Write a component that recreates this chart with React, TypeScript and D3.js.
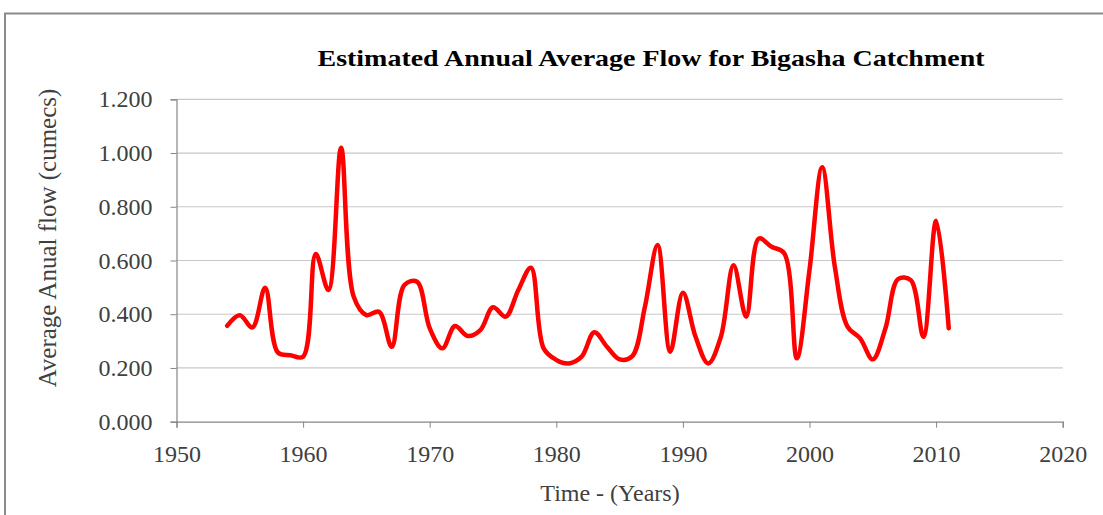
import { useEffect, useRef } from 'react';
import * as d3 from 'd3';

const years = [
  1954, 1955, 1956, 1957, 1958, 1959, 1960, 1961, 1962, 1963,
  1964, 1965, 1966, 1967, 1968, 1969, 1970, 1971, 1972, 1973,
  1974, 1975, 1976, 1977, 1978, 1979, 1980, 1981, 1982, 1983,
  1984, 1985, 1986, 1987, 1988, 1989, 1990, 1991, 1992, 1993,
  1994, 1995, 1996, 1997, 1998, 1999, 2000, 2001, 2002, 2003,
  2004, 2005, 2006, 2007, 2008, 2009, 2010, 2011,
];
const flow = [
  0.357, 0.396, 0.351, 0.499, 0.258, 0.247, 0.242, 0.624, 0.49, 1.02,
  0.465, 0.397, 0.409, 0.279, 0.509, 0.521, 0.348, 0.273, 0.356, 0.319,
  0.341, 0.426, 0.391, 0.49, 0.573, 0.273, 0.23, 0.217, 0.242, 0.333,
  0.279, 0.232, 0.244, 0.428, 0.658, 0.26, 0.48, 0.316, 0.217, 0.316,
  0.582, 0.391, 0.682, 0.651, 0.627, 0.236, 0.565, 0.947, 0.577, 0.354,
  0.31, 0.232, 0.348, 0.531, 0.527, 0.316, 0.748, 0.348,
];
const xTicks = [1950, 1960, 1970, 1980, 1990, 2000, 2010, 2020];
const yTicks = [0, 0.2, 0.4, 0.6, 0.8, 1.0, 1.2];

const title = 'Estimated Annual Average Flow for Bigasha Catchment';
const xTitle = 'Time - (Years)';
const yTitle = 'Average Anual flow (cumecs)';

const font = '"Liberation Serif", "DejaVu Serif", serif';

export default function App() {
  const svgRef = useRef<SVGSVGElement>(null);

  useEffect(() => {
    if (!svgRef.current) return;
    const width = 1103;
    const height = 515;
    const margin = { top: 99.3, right: 1103 - 1062.7, bottom: 515 - 421.7, left: 176.5 };

    const svg = d3.select(svgRef.current);
    svg.selectAll('*').remove();
    svg.attr('width', width).attr('height', height);

    // chart frame (Excel-style border, cut off at right and bottom)
    svg.append('rect')
      .attr('x', 5).attr('y', 13.5)
      .attr('width', width + 10).attr('height', height + 10)
      .attr('fill', '#fff')
      .attr('stroke', '#8a8a8a')
      .attr('stroke-width', 2);

    const x = d3.scaleLinear().domain([1950, 2020]).range([margin.left, width - margin.right]);
    const y = d3.scaleLinear().domain([0, 1.2]).range([height - margin.bottom, margin.top]);

    // gridlines
    svg.append('g')
      .selectAll('line')
      .data(yTicks.slice(1))
      .join('line')
      .attr('x1', x(1950)).attr('x2', x(2020))
      .attr('y1', d => y(d)).attr('y2', d => y(d))
      .attr('stroke', '#c8c8c8')
      .attr('stroke-width', 1.2);

    // y axis
    svg.append('g')
      .attr('transform', `translate(${x(1950)},0)`)
      .call(d3.axisLeft(y).tickValues(yTicks).tickSize(6).tickPadding(18).tickFormat(d3.format('.3f')))
      .call(ax => ax.select('.domain').attr('stroke', '#868686').attr('stroke-width', 1.2))
      .call(ax => ax.selectAll('.tick line').attr('stroke', '#868686'))
      .call(ax => ax.selectAll('.tick text')
        .attr('fill', '#404040')
        .attr('font-family', font)
        .attr('font-size', '24px'));

    // x axis
    svg.append('g')
      .attr('transform', `translate(0,${y(0)})`)
      .call(d3.axisBottom(x).tickValues(xTicks).tickSize(6).tickPadding(17).tickFormat(d3.format('d')))
      .call(ax => ax.select('.domain').attr('stroke', '#868686').attr('stroke-width', 1.2))
      .call(ax => ax.selectAll('.tick line').attr('stroke', '#868686'))
      .call(ax => ax.selectAll('.tick text')
        .attr('fill', '#404040')
        .attr('font-family', font)
        .attr('font-size', '24px'));

    // smoothed line
    const line = d3.line<number>()
      .x((_, i) => x(years[i]))
      .y(d => y(d))
      .curve(d3.curveCatmullRom.alpha(0.5));

    svg.append('path')
      .datum(flow)
      .attr('d', line)
      .attr('fill', 'none')
      .attr('stroke', '#ff0000')
      .attr('stroke-width', 4.5)
      .attr('stroke-linejoin', 'round')
      .attr('stroke-linecap', 'round');

    // titles
    svg.append('text')
      .attr('x', 651).attr('y', 66)
      .attr('text-anchor', 'middle')
      .attr('font-family', font)
      .attr('font-weight', 700)
      .attr('font-size', '23px')
      .attr('textLength', 667)
      .attr('lengthAdjust', 'spacingAndGlyphs')
      .attr('fill', '#000')
      .text(title);

    svg.append('text')
      .attr('x', 610).attr('y', 501)
      .attr('text-anchor', 'middle')
      .attr('font-family', font)
      .attr('font-size', '24px')
      .attr('fill', '#404040')
      .text(xTitle);

    svg.append('text')
      .attr('transform', `translate(56,238) rotate(-90)`)
      .attr('text-anchor', 'middle')
      .attr('font-family', font)
      .attr('font-size', '25px')
      .attr('fill', '#404040')
      .text(yTitle);
  }, []);

  return (
    <div style={{ position: 'absolute', left: 0, top: 0 }}>
      <svg ref={svgRef} style={{ display: 'block' }} />
    </div>
  );
}
